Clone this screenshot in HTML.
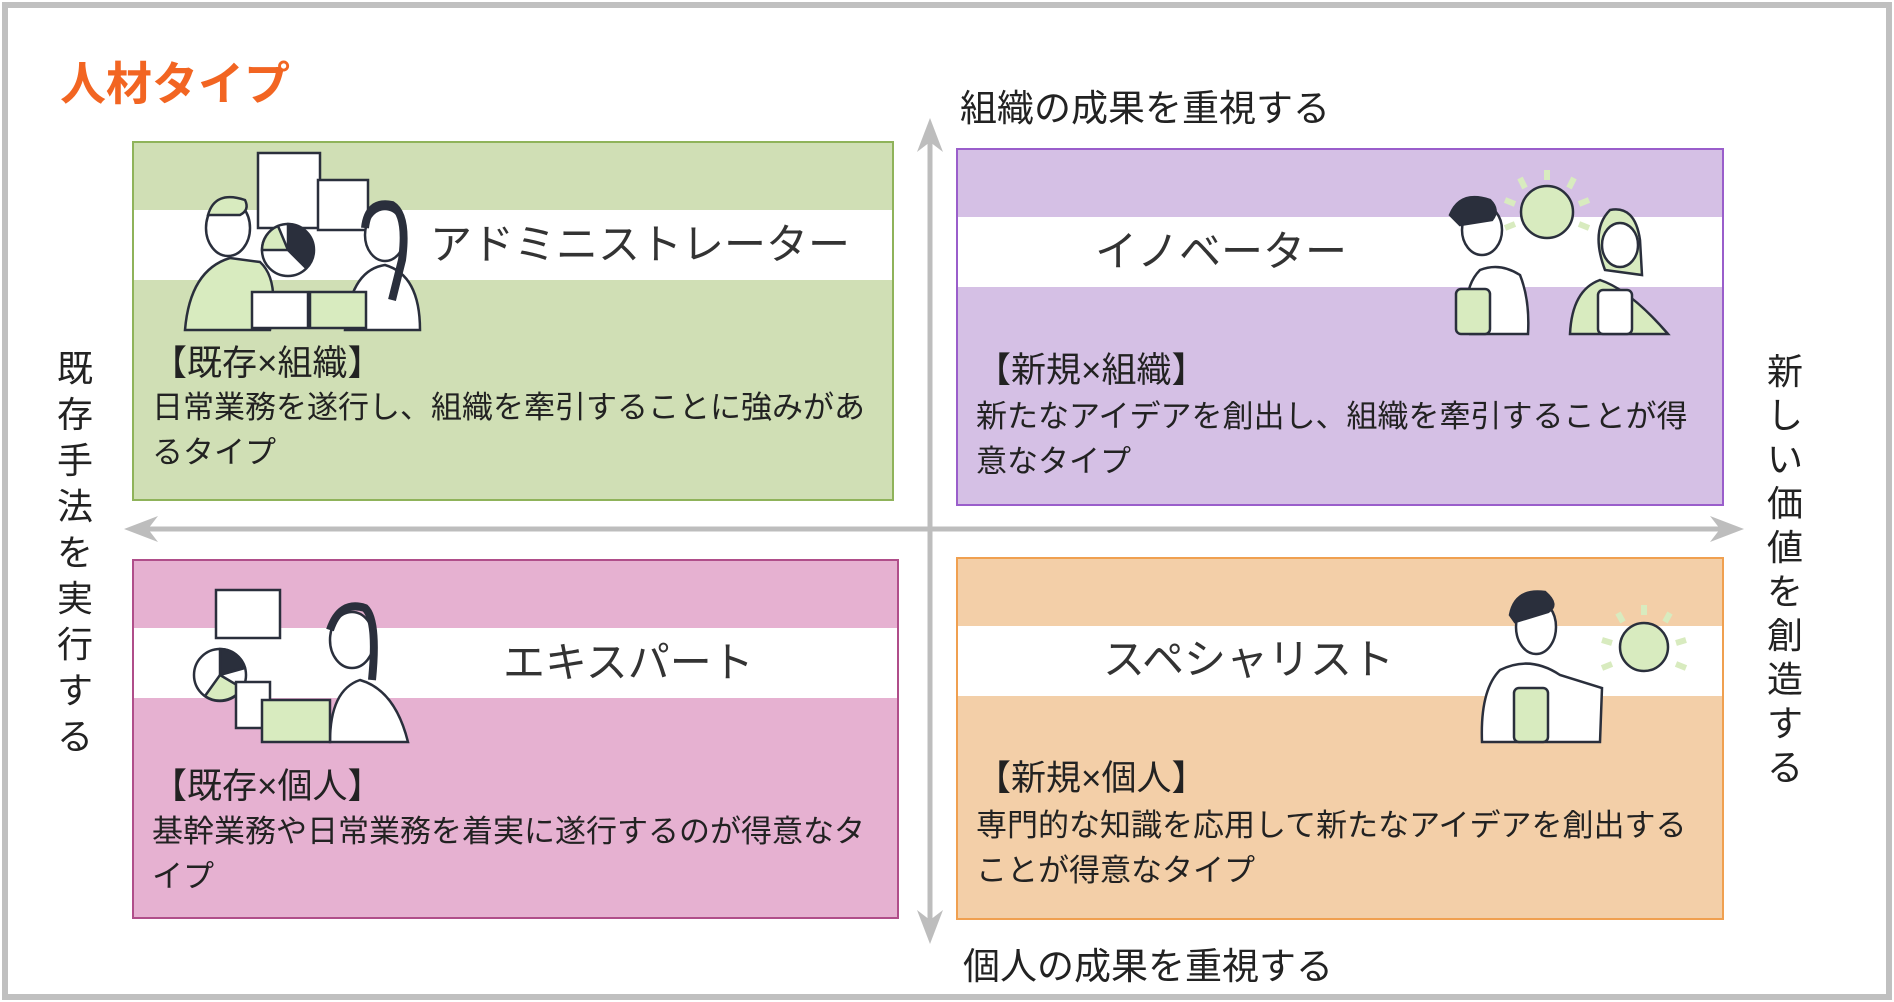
<!DOCTYPE html>
<html><head><meta charset="utf-8">
<style>
*{margin:0;padding:0;box-sizing:border-box}
body{width:1894px;height:1002px;background:#fff;position:relative;overflow:hidden;font-family:"Liberation Sans","Noto Sans CJK JP",sans-serif;color:#222}
.frame{position:absolute;left:2px;top:2px;width:1890px;height:998px;border:6px solid #c0c0c0}
.abs{position:absolute;white-space:nowrap}
.box{position:absolute;border:2px solid}
.band{position:absolute;left:0;right:0;background:#fff}
.t{position:absolute;white-space:nowrap}
.name{font-size:42px;color:#333;line-height:1}
.hd{font-size:35px;line-height:1}
.body{font-size:31px;line-height:45px}
.vt{position:absolute;width:50px;text-align:center;font-size:36px;color:#222}
</style></head><body>
<div class="frame"></div>
<div class="abs" style="left:60px;top:48px;font-size:46px;font-weight:bold;color:#f26522">人材タイプ</div>

<div class="box" style="left:132px;top:141px;width:762px;height:360px;background:#d0dfb5;border-color:#8fb35a">
  <div class="band" style="top:67px;height:70px"></div>
  <div class="t name" style="left:296px;top:81px">アドミニストレーター</div>
  <div class="t hd" style="left:18px;top:203px">【既存×組織】</div>
  <div class="t body" style="left:18px;top:242px">日常業務を遂行し、組織を牽引することに強みがあ<br>るタイプ</div>
</div>
<div class="box" style="left:956px;top:148px;width:768px;height:358px;background:#d5c0e5;border-color:#9a5ecb">
  <div class="band" style="top:67px;height:70px"></div>
  <div class="t name" style="left:137px;top:81px">イノベーター</div>
  <div class="t hd" style="left:18px;top:203px">【新規×組織】</div>
  <div class="t body" style="left:18px;top:244px">新たなアイデアを創出し、組織を牽引することが得<br>意なタイプ</div>
</div>
<div class="box" style="left:132px;top:559px;width:767px;height:360px;background:#e6b1d1;border-color:#b04e8a">
  <div class="band" style="top:67px;height:70px"></div>
  <div class="t name" style="left:369px;top:81px">エキスパート</div>
  <div class="t hd" style="left:18px;top:208px">【既存×個人】</div>
  <div class="t body" style="left:18px;top:248px">基幹業務や日常業務を着実に遂行するのが得意なタ<br>イプ</div>
</div>
<div class="box" style="left:956px;top:557px;width:768px;height:363px;background:#f3cfa8;border-color:#f0a050">
  <div class="band" style="top:67px;height:70px"></div>
  <div class="t name" style="left:145px;top:80px">スペシャリスト</div>
  <div class="t hd" style="left:18px;top:202px">【新規×個人】</div>
  <div class="t body" style="left:18px;top:244px">専門的な知識を応用して新たなアイデアを創出する<br>ことが得意なタイプ</div>
</div>

<svg class="abs" style="left:0;top:0" width="1894" height="1002">
 <g stroke="#2a2f3c" stroke-width="2.5" fill="none">
  <rect x="258" y="153" width="62" height="75" fill="#fff"/>
  <rect x="318" y="180" width="50" height="50" fill="#fff"/>
  <path d="M185 330 Q190 270 230 258 L260 262 Q280 280 270 330 Z" fill="#d8ebbf"/>
  <ellipse cx="228" cy="228" rx="22" ry="28" fill="#fff"/>
  <path d="M208 215 Q215 190 245 200 Q250 210 240 215 Z" fill="#d8ebbf"/>
  <circle cx="288" cy="250" r="26" fill="#fff"/>
  <path d="M288 224 A26 26 0 0 1 306 268 L288 250 Z" fill="#2a2f3c"/>
  <path d="M262 250 A26 26 0 0 1 278 226 L288 250 Z" fill="#d8ebbf"/>
  <path d="M345 330 Q350 270 385 265 Q420 275 420 330 Z" fill="#fff"/>
  <ellipse cx="385" cy="235" rx="20" ry="26" fill="#fff"/>
  <path d="M365 228 Q368 200 392 205 Q408 215 402 260 L392 300" stroke-width="8"/>
  <rect x="252" y="292" width="56" height="36" fill="#fff"/>
  <rect x="310" y="292" width="56" height="36" fill="#d8ebbf"/>
  <rect x="216" y="590" width="64" height="48" fill="#fff"/>
  <circle cx="220" cy="675" r="26" fill="#fff"/>
  <path d="M220 649 A26 26 0 0 1 245 668 L220 675 Z" fill="#2a2f3c"/>
  <path d="M220 675 L242 688 A26 26 0 0 1 205 696 Z" fill="#d8ebbf"/>
  <rect x="236" y="682" width="34" height="46" fill="#fff"/>
  <path d="M330 742 Q330 690 360 680 Q395 690 408 742 Z" fill="#fff"/>
  <ellipse cx="352" cy="640" rx="22" ry="28" fill="#fff"/>
  <path d="M330 630 Q340 600 365 608 Q378 620 372 680" stroke-width="8"/>
  <rect x="262" y="700" width="68" height="42" fill="#d8ebbf"/>
  <circle cx="1547" cy="212" r="26" fill="#d8ebbf"/>
  <path d="M1470 334 Q1460 290 1480 270 Q1500 262 1520 275 Q1530 300 1528 334 Z" fill="#fff"/>
  <ellipse cx="1482" cy="230" rx="20" ry="25" fill="#fff"/>
  <path d="M1450 215 Q1460 190 1490 200 Q1500 210 1492 220 L1460 225 Z" fill="#2a2f3c"/>
  <rect x="1456" y="289" width="34" height="45" rx="5" fill="#d8ebbf"/>
  <path d="M1570 334 Q1572 290 1600 280 Q1630 290 1668 334 Z" fill="#d8ebbf"/>
  <path d="M1605 270 Q1590 230 1610 210 Q1635 205 1640 240 L1642 275 Z" fill="#d8ebbf"/>
  <ellipse cx="1620" cy="245" rx="18" ry="22" fill="#fff"/>
  <rect x="1598" y="290" width="34" height="44" rx="5" fill="#fff"/>
  <circle cx="1644" cy="647" r="24" fill="#d8ebbf"/>
  <path d="M1482 742 Q1480 690 1500 670 Q1530 655 1560 675 L1602 688 L1600 742 Z" fill="#fff"/>
  <ellipse cx="1536" cy="627" rx="20" ry="27" fill="#fff"/>
  <path d="M1510 615 Q1515 588 1545 592 Q1560 605 1548 612 L1515 622 Z" fill="#2a2f3c"/>
  <rect x="1514" y="688" width="34" height="54" rx="5" fill="#d8ebbf"/>
 </g>
 <g stroke="#d8ebbf" stroke-width="6">
  <path d="M1547 170 L1547 180 M1520 178 L1525 188 M1574 178 L1569 188 M1505 200 L1515 204 M1589 200 L1579 204 M1505 228 L1515 224 M1589 228 L1579 224"/>
  <path d="M1644 605 L1644 615 M1618 613 L1623 622 M1670 613 L1665 622 M1602 640 L1612 643 M1686 640 L1676 643 M1602 668 L1612 664 M1686 668 L1676 664"/>
 </g>
 <g stroke="#bdbdbd" stroke-width="5" fill="none">
  <line x1="930" y1="128" x2="930" y2="934"/>
  <line x1="134" y1="529" x2="1734" y2="529"/>
 </g>
 <g fill="#bdbdbd">
  <polygon points="930,118 917,152 930,142 943,152"/>
  <polygon points="930,944 917,910 930,920 943,910"/>
  <polygon points="124,529 158,516 148,529 158,542"/>
  <polygon points="1744,529 1710,516 1720,529 1710,542"/>
 </g>
</svg>

<div class="abs" style="left:960px;top:78px;font-size:37px">組織の成果を重視する</div>
<div class="abs" style="left:963px;top:936px;font-size:37px">個人の成果を重視する</div>
<div class="vt" style="left:50px;top:346px;line-height:46px">既<br>存<br>手<br>法<br>を<br>実<br>行<br>す<br>る</div>
<div class="vt" style="left:1760px;top:350px;line-height:44px">新<br>し<br>い<br>価<br>値<br>を<br>創<br>造<br>す<br>る</div>
</body></html>
